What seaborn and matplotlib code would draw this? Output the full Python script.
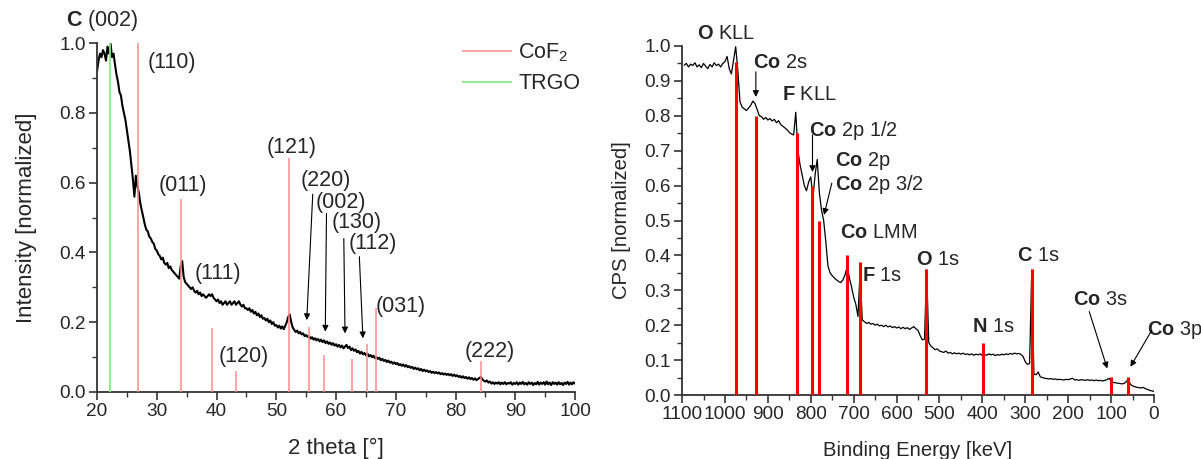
import numpy as np
import matplotlib
matplotlib.use("Agg")
import matplotlib.pyplot as plt
from matplotlib.ticker import MultipleLocator, FormatStrFormatter
import seaborn as sns

# ---- XRD (left) : intensity read every 0.25 deg from 20 to 100 ----
xrd_int = [
    0.92, 0.95, 0.97, 0.96, 0.98, 0.97, 0.95, 0.99, 0.97, 1.00, 0.96, 0.97, 0.94, 0.91, 0.89, 0.86, 0.85, 0.82, 0.80, 0.78,
    0.75, 0.72, 0.69, 0.65, 0.61, 0.56, 0.62, 0.59, 0.57, 0.54, 0.52, 0.50, 0.48, 0.465, 0.46, 0.445, 0.44, 0.43, 0.425, 0.41,
    0.405, 0.395, 0.39, 0.38, 0.385, 0.37, 0.365, 0.37, 0.355, 0.36, 0.35, 0.345, 0.34, 0.335, 0.33, 0.325, 0.36, 0.375, 0.33, 0.315,
    0.31, 0.305, 0.30, 0.295, 0.30, 0.29, 0.285, 0.29, 0.28, 0.285, 0.275, 0.28, 0.275, 0.27, 0.275, 0.28, 0.275, 0.28, 0.27, 0.265,
    0.26, 0.265, 0.255, 0.26, 0.25, 0.255, 0.26, 0.25, 0.255, 0.26, 0.25, 0.255, 0.26, 0.25, 0.255, 0.26, 0.25, 0.245, 0.25, 0.24,
    0.24, 0.235, 0.24, 0.23, 0.235, 0.225, 0.23, 0.22, 0.225, 0.215, 0.22, 0.21, 0.212, 0.205, 0.21, 0.20, 0.205, 0.195, 0.20, 0.19,
    0.192, 0.185, 0.19, 0.182, 0.188, 0.18, 0.19, 0.20, 0.215, 0.222, 0.20, 0.185, 0.178, 0.172, 0.176, 0.168, 0.172, 0.165, 0.168, 0.16,
    0.163, 0.158, 0.16, 0.153, 0.157, 0.15, 0.154, 0.148, 0.152, 0.145, 0.15, 0.143, 0.148, 0.14, 0.145, 0.138, 0.142, 0.135, 0.14, 0.133,
    0.137, 0.13, 0.135, 0.128, 0.133, 0.125, 0.13, 0.135, 0.126, 0.13, 0.12, 0.125, 0.118, 0.122, 0.114, 0.118, 0.11, 0.115, 0.108, 0.112,
    0.105, 0.11, 0.102, 0.106, 0.10, 0.104, 0.097, 0.10, 0.095, 0.098, 0.091, 0.095, 0.089, 0.092, 0.086, 0.09, 0.084, 0.087, 0.081, 0.085,
    0.08, 0.083, 0.077, 0.08, 0.075, 0.079, 0.073, 0.077, 0.071, 0.074, 0.069, 0.072, 0.066, 0.07, 0.065, 0.068, 0.062, 0.066, 0.06, 0.064,
    0.059, 0.062, 0.057, 0.06, 0.055, 0.058, 0.054, 0.057, 0.053, 0.056, 0.051, 0.054, 0.05, 0.053, 0.049, 0.052, 0.048, 0.051, 0.046, 0.05,
    0.045, 0.048, 0.043, 0.046, 0.041, 0.045, 0.04, 0.043, 0.038, 0.042, 0.037, 0.04, 0.035, 0.039, 0.034, 0.037, 0.04, 0.043, 0.036, 0.032,
    0.03, 0.033, 0.027, 0.03, 0.024, 0.028, 0.023, 0.027, 0.024, 0.028, 0.022, 0.027, 0.023, 0.028, 0.022, 0.026, 0.024, 0.028, 0.021, 0.026,
    0.023, 0.028, 0.021, 0.027, 0.023, 0.029, 0.022, 0.026, 0.021, 0.028, 0.023, 0.027, 0.02, 0.026, 0.022, 0.029, 0.021, 0.027, 0.023, 0.028,
    0.021, 0.03, 0.022, 0.027, 0.02, 0.028, 0.023, 0.027, 0.021, 0.028, 0.022, 0.026, 0.02, 0.027, 0.023, 0.029, 0.021, 0.027, 0.022, 0.028, 0.024,
]
xrd_2theta = np.linspace(20, 100, len(xrd_int))

cof2_pos = [26.9, 34.0, 39.3, 43.2, 52.2, 55.4, 58.0, 62.6, 65.1, 66.7, 84.3]
cof2_height = [1.0, 0.553, 0.184, 0.061, 0.671, 0.185, 0.107, 0.095, 0.137, 0.242, 0.089]
trgo_pos = [22.2]
trgo_height = [1.0]

# hkl labels: text, label x, label y
hkl_labels = ["(110)", "(011)", "(111)", "(120)", "(121)", "(031)", "(222)"]
hkl_x = [32.6, 34.4, 40.3, 44.6, 52.5, 70.9, 85.8]
hkl_y = [0.945, 0.593, 0.341, 0.103, 0.702, 0.246, 0.117]
# arrowed hkl labels: text, label pos, arrow start, arrow tip
arr_labels = ["(220)", "(002)", "(130)", "(112)"]
arr_lx = [58.3, 60.8, 63.5, 66.2]
arr_ly = [0.605, 0.544, 0.487, 0.427]
arr_sx = [56.1, 58.4, 61.3, 63.9]
arr_sy = [0.567, 0.512, 0.44, 0.388]
arr_tx = [55.1, 58.2, 61.5, 64.5]
arr_ty = [0.206, 0.173, 0.168, 0.154]

# ---- XPS (right) : CPS read every 5 eV from 1095 down to 0 ----
xps_cps = [
    0.945, 0.95, 0.94, 0.948, 0.944, 0.952, 0.94, 0.946, 0.938, 0.95, 0.942, 0.935, 0.947, 0.94, 0.952, 0.944, 0.948, 0.94, 0.95, 0.955,
    0.97, 0.935, 0.92, 0.96, 0.998, 0.93, 0.84, 0.825, 0.82, 0.815, 0.822, 0.83, 0.842, 0.835, 0.818, 0.80, 0.798, 0.79, 0.795, 0.788,
    0.792, 0.785, 0.79, 0.78, 0.786, 0.775, 0.77, 0.765, 0.76, 0.752, 0.748, 0.745, 0.81, 0.70, 0.66, 0.63, 0.60, 0.585, 0.61, 0.625,
    0.565, 0.63, 0.675, 0.58, 0.53, 0.50, 0.44, 0.37, 0.35, 0.342, 0.335, 0.33, 0.325, 0.322, 0.33, 0.345, 0.368, 0.335, 0.31, 0.28,
    0.26, 0.225, 0.355, 0.215, 0.21, 0.205, 0.208, 0.203, 0.205, 0.20, 0.203, 0.198, 0.20, 0.196, 0.20, 0.195, 0.198, 0.193, 0.196, 0.192,
    0.195, 0.19, 0.194, 0.19, 0.193, 0.188, 0.192, 0.196, 0.19, 0.185, 0.17, 0.158, 0.16, 0.358, 0.15, 0.14, 0.135, 0.13, 0.132, 0.126,
    0.124, 0.122, 0.126, 0.12, 0.122, 0.118, 0.121, 0.118, 0.12, 0.117, 0.12, 0.116, 0.118, 0.115, 0.118, 0.114, 0.117, 0.115, 0.118, 0.113,
    0.116, 0.114, 0.118, 0.115, 0.117, 0.113, 0.116, 0.114, 0.117, 0.115, 0.118, 0.116, 0.119, 0.117, 0.12, 0.118, 0.119, 0.116, 0.11, 0.095,
    0.088, 0.09, 0.358, 0.06, 0.058, 0.066, 0.052, 0.05, 0.048, 0.047, 0.046, 0.047, 0.045, 0.046, 0.044, 0.045, 0.044, 0.043, 0.045, 0.044,
    0.046, 0.048, 0.043, 0.044, 0.042, 0.044, 0.043, 0.042, 0.044, 0.042, 0.043, 0.041, 0.043, 0.041, 0.042, 0.04, 0.042, 0.044, 0.048, 0.04,
    0.036, 0.035, 0.034, 0.033, 0.032, 0.033, 0.038, 0.046, 0.03, 0.026, 0.024, 0.022, 0.021, 0.02, 0.022, 0.018, 0.016, 0.013, 0.012, 0.01,
]
xps_be = np.linspace(1095, 0, len(xps_cps))

peak_be = [975, 928, 833, 796, 780, 716, 686, 531, 398, 284, 101, 60]
peak_height = [0.955, 0.80, 0.75, 0.60, 0.50, 0.40, 0.38, 0.36, 0.15, 0.36, 0.052, 0.052]

# element (bold) + transition, label left edge x, y
xps_elem = ["O", "Co", "F", "Co", "Co", "Co", "Co", "F", "O", "N", "C", "Co", "Co"]
xps_trans = ["KLL", "2s", "KLL", "2p 1/2", "2p", "2p 3/2", "LMM", "1s", "1s", "1s", "1s", "3s", "3p"]
xps_lx = [1065, 934, 867, 804, 743, 743, 732, 680, 555, 424, 319, 189, 16]
xps_ly = [1.037, 0.954, 0.86, 0.759, 0.670, 0.602, 0.467, 0.341, 0.387, 0.195, 0.401, 0.275, 0.186]
# arrows: start, tip
xps_arr_sx = [928, 796, 751, 151, 5]
xps_arr_sy = [0.926, 0.745, 0.607, 0.239, 0.186]
xps_arr_tx = [928, 796, 769, 109, 55]
xps_arr_ty = [0.854, 0.639, 0.516, 0.076, 0.081]

sns.set_theme(style="ticks")
plt.rcParams["font.family"] = ["Liberation Sans", "DejaVu Sans"]
plt.rcParams["mathtext.fontset"] = "custom"
plt.rcParams["mathtext.rm"] = "Liberation Sans"
plt.rcParams["mathtext.bf"] = "Liberation Sans:bold"

fig, (ax1, ax2) = plt.subplots(1, 2, figsize=(12.01, 4.59), dpi=100)
ax1.set_position([0.0808, 0.146, 0.398, 0.760])
ax2.set_position([0.5679, 0.1394, 0.393, 0.7604])

TICK = 13.7
arrow_kw = dict(arrowstyle="-|>", color="black", lw=0.8, mutation_scale=9, shrinkA=0, shrinkB=0)

# left panel
sns.lineplot(x=xrd_2theta, y=xrd_int, ax=ax1, color="black", lw=1.5, estimator=None, sort=False)
ax1.vlines(cof2_pos, 0, cof2_height, color="#ff8a8a", lw=1.1, zorder=3, label="CoF$_2$")
ax1.vlines(trgo_pos, 0, trgo_height, color="#85ea85", lw=1.3, zorder=3, label="TRGO")
ax1.text(14.8, 1.066, r"$\mathbf{C}$ (002)", fontsize=15.5, ha="left", va="center", clip_on=False)
for t, x, y in zip(hkl_labels, hkl_x, hkl_y):
    ax1.text(x, y, t, fontsize=15.5, ha="center", va="center")
for t, lx, ly, sx, sy, tx, ty in zip(arr_labels, arr_lx, arr_ly, arr_sx, arr_sy, arr_tx, arr_ty):
    ax1.text(lx, ly, t, fontsize=15.5, ha="center", va="center")
    ax1.annotate("", xy=(tx, ty), xytext=(sx, sy), arrowprops=arrow_kw)
ax1.legend(loc="upper left", bbox_to_anchor=(0.742, 1.035), frameon=False, fontsize=15.5,
           handlelength=2.3, handletextpad=0.3, borderpad=0, labelspacing=0.42)
ax1.set_xlim(20, 100)
ax1.set_ylim(0, 1.0)
ax1.xaxis.set_major_locator(MultipleLocator(10))
ax1.xaxis.set_minor_locator(MultipleLocator(5))
ax1.yaxis.set_major_locator(MultipleLocator(0.2))
ax1.yaxis.set_minor_locator(MultipleLocator(0.1))
ax1.yaxis.set_major_formatter(FormatStrFormatter("%.1f"))
ax1.set_xlabel("2 theta [°]", fontsize=16, labelpad=13)
ax1.set_ylabel("Intensity [normalized]", fontsize=16, labelpad=16)

# right panel
sns.lineplot(x=xps_be, y=xps_cps, ax=ax2, color="black", lw=0.9, estimator=None, sort=False)
ax2.vlines(peak_be, 0, peak_height, color="#ff0000", lw=2.2, zorder=3)
for e, tr, x, y in zip(xps_elem, xps_trans, xps_lx, xps_ly):
    ax2.text(x, y, r"$\mathbf{%s}$ %s" % (e, tr), fontsize=14.4, ha="left", va="center", clip_on=False)
for sx, sy, tx, ty in zip(xps_arr_sx, xps_arr_sy, xps_arr_tx, xps_arr_ty):
    ax2.annotate("", xy=(tx, ty), xytext=(sx, sy), arrowprops=arrow_kw)
ax2.set_xlim(1100, 0)
ax2.set_ylim(0, 1.0)
ax2.xaxis.set_major_locator(MultipleLocator(100))
ax2.xaxis.set_minor_locator(MultipleLocator(50))
ax2.yaxis.set_major_locator(MultipleLocator(0.1))
ax2.yaxis.set_minor_locator(MultipleLocator(0.05))
ax2.yaxis.set_major_formatter(FormatStrFormatter("%.1f"))
ax2.set_xlabel("Binding Energy [keV]", fontsize=14.6, labelpad=13)
ax2.set_ylabel("CPS [normalized]", fontsize=14.6, labelpad=10)

for ax in (ax1, ax2):
    sns.despine(ax=ax)
    for s in ("left", "bottom"):
        ax.spines[s].set_linewidth(1.3)
        ax.spines[s].set_color("#333333")
    ax.tick_params(which="major", direction="out", length=6, width=1.2, labelsize=TICK, color="#333333", pad=2)
    ax.tick_params(which="minor", direction="out", length=3.5, width=1.0, color="#333333")
    ax.set_facecolor("white")

fig.savefig("out.png", dpi=100)
